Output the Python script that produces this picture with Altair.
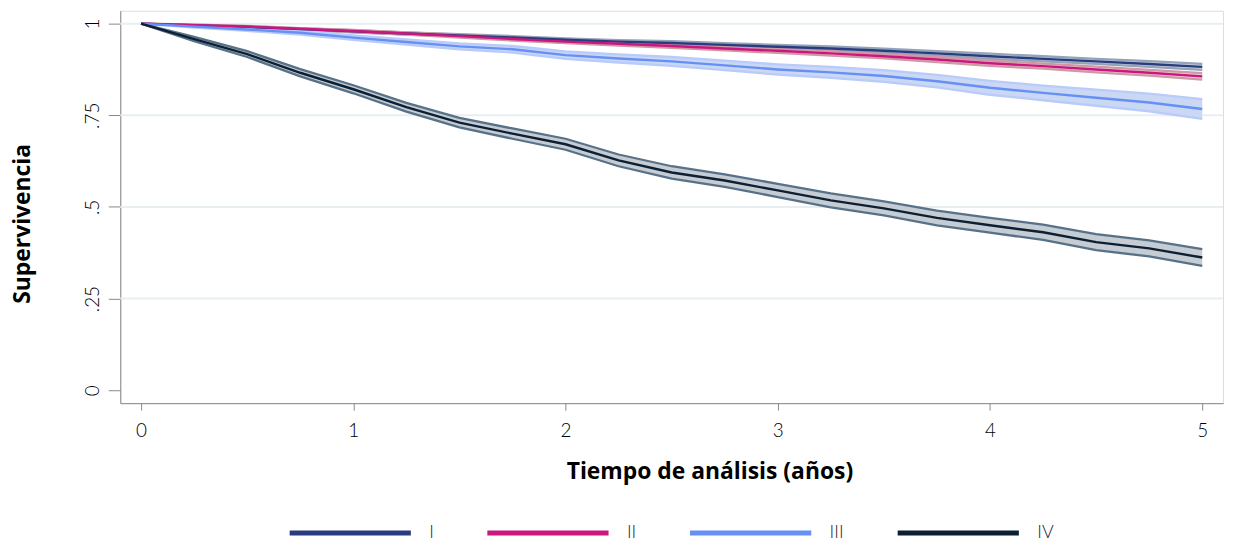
import altair as alt
import pandas as pd

# time points (years)
t = [0, .25, .5, .75, 1, 1.25, 1.5, 1.75, 2, 2.25, 2.5, 2.75, 3, 3.25, 3.5, 3.75, 4, 4.25, 4.5, 4.75, 5]

groups = ["I", "II", "III", "IV"]

s_I = [1, .996, .991, .985, .979, .973, .968, .962, .956, .951, .947, .942, .937, .932, .926, .919, .911, .904, .897, .890, .882]
lo_I = [1, .995, .989, .983, .976, .970, .965, .958, .952, .947, .942, .937, .932, .926, .920, .913, .904, .897, .890, .882, .874]
hi_I = [1, .997, .993, .987, .982, .976, .971, .966, .960, .955, .952, .947, .942, .938, .932, .925, .918, .911, .904, .898, .890]

s_II = [1, .996, .992, .986, .980, .973, .966, .958, .951, .945, .939, .932, .926, .919, .911, .902, .892, .884, .875, .866, .856]
lo_II = [1, .995, .990, .984, .977, .970, .962, .954, .947, .940, .934, .927, .920, .913, .905, .895, .885, .877, .867, .858, .847]
hi_II = [1, .997, .994, .988, .983, .976, .970, .962, .955, .950, .944, .937, .932, .925, .917, .909, .899, .891, .883, .874, .865]

s_III = [1, .992, .984, .975, .962, .950, .938, .930, .914, .905, .897, .886, .875, .867, .857, .843, .825, .811, .798, .785, .767]
lo_III = [1, .989, .980, .970, .956, .943, .930, .921, .904, .894, .885, .873, .861, .852, .841, .826, .806, .791, .776, .761, .740]
hi_III = [1, .995, .988, .980, .968, .957, .946, .939, .924, .916, .909, .899, .889, .882, .873, .860, .844, .831, .820, .809, .794]

s_IV = [1, .958, .917, .866, .821, .772, .730, .700, .671, .627, .594, .572, .545, .518, .496, .470, .450, .431, .404, .387, .362]
lo_IV = [1, .952, .909, .856, .810, .760, .717, .686, .656, .611, .577, .555, .527, .499, .477, .450, .430, .410, .382, .365, .339]
hi_IV = [1, .964, .925, .876, .832, .784, .743, .714, .686, .643, .611, .589, .563, .537, .515, .490, .470, .452, .426, .409, .385]

line_colors = ["#2a3c80", "#c9177f", "#6690f5", "#0c1f33"]
band_fill = ["#d3d9e2", "#ead2d8", "#cbd8f4", "#c6ccd3"]
band_edge = ["#93a3b8", "#cf98a5", "#b8cbfb", "#577189"]

grid_vals = [0.25, 0.5, 0.75, 1]

series = {"I": (s_I, lo_I, hi_I), "II": (s_II, lo_II, hi_II),
          "III": (s_III, lo_III, hi_III), "IV": (s_IV, lo_IV, hi_IV)}
rows = []
for g in groups:
    s, lo, hi = series[g]
    for i in range(len(t)):
        rows.append({"t": t[i], "s": s[i], "lo": lo[i], "hi": hi[i], "group": g})
df = pd.DataFrame(rows)

FONT = "Lato"
TFONT = "Open Sans"
xscale = alt.Scale(domain=[-0.098, 5.098], nice=False, zero=False)
yscale = alt.Scale(domain=[-0.0352, 1.0352], nice=False, zero=False)

xaxis = alt.Axis(values=[0, 1, 2, 3, 4, 5], format="d", title="Tiempo de análisis (años)", grid=False,
                 tickSize=7, labelPadding=12, titlePadding=20, labelFontSize=19, labelFontWeight=300,
                 titleFontSize=23, titleFontWeight="bold", titleFont=TFONT, titleX=593)
yaxis = alt.Axis(values=[0, 0.25, 0.5, 0.75, 1], title="Supervivencia", grid=False,
                 tickSize=12, labelAngle=270, labelAlign="center", labelBaseline="bottom",
                 labelPadding=6, titlePadding=49, labelFontSize=19, labelFontWeight=300,
                 titleFontSize=23, titleFontWeight="bold", titleFont=TFONT, titleY=214,
                 labelExpr="datum.value == 1 ? '1' : datum.value == 0 ? '0' : replace(format(datum.value, '.2~f'), '0.', '.')")


def X():
    return alt.X("t:Q", scale=xscale, axis=xaxis)


def Y(field):
    return alt.Y(field, type="quantitative", scale=yscale, axis=yaxis)


base = alt.Chart(df)

grid = alt.Chart(pd.DataFrame({"g": grid_vals})).mark_rule(
    color="#e7eff1", strokeWidth=2).encode(
    y=Y("g"), x=alt.value(0), x2=alt.value(1110)
)

layers = [grid]
for i, g in enumerate(groups):
    sub = base.transform_filter(alt.datum.group == g)
    area = sub.mark_area(color=band_fill[i], opacity=1, interpolate="linear").encode(
        x=X(), y=Y("lo"), y2="hi:Q")
    e1 = sub.mark_line(color=band_edge[i], strokeWidth=2.3, interpolate="linear").encode(
        x=X(), y=Y("lo"))
    e2 = sub.mark_line(color=band_edge[i], strokeWidth=2.3, interpolate="linear").encode(
        x=X(), y=Y("hi"))
    layers += [area, e1, e2]

lines = base.mark_line(strokeWidth=2.4, interpolate="linear").encode(
    x=X(),
    y=Y("s"),
    color=alt.Color("group:N", scale=alt.Scale(domain=groups, range=line_colors),
                    legend=alt.Legend(title=None, orient="none", direction="horizontal",
                                      legendX=168, legendY=462, symbolType="stroke",
                                      symbolSize=14884, symbolStrokeWidth=5,
                                      labelFontSize=18, labelFontWeight=300, labelOffset=16,
                                      columnPadding=43, padding=0, labelFont=FONT,
                                      labelColor="#222222")),
    detail="group:N",
)
layers.append(lines)

chart = alt.layer(*layers).properties(
    width=1110, height=395,
    autosize=alt.AutoSizeParams(type="none"),
    padding={"left": 113, "top": 1, "right": 6, "bottom": 137},
).configure_axis(
    labelFont=FONT, labelColor="#222222", titleColor="#111111",
    domainColor="#7a7a7a", tickColor="#7a7a7a", domainWidth=1.5, tickWidth=1.5,
).configure_view(stroke=None).configure(font=FONT)

chart.save("out.html", embed_options={"renderer": "svg", "actions": False})
